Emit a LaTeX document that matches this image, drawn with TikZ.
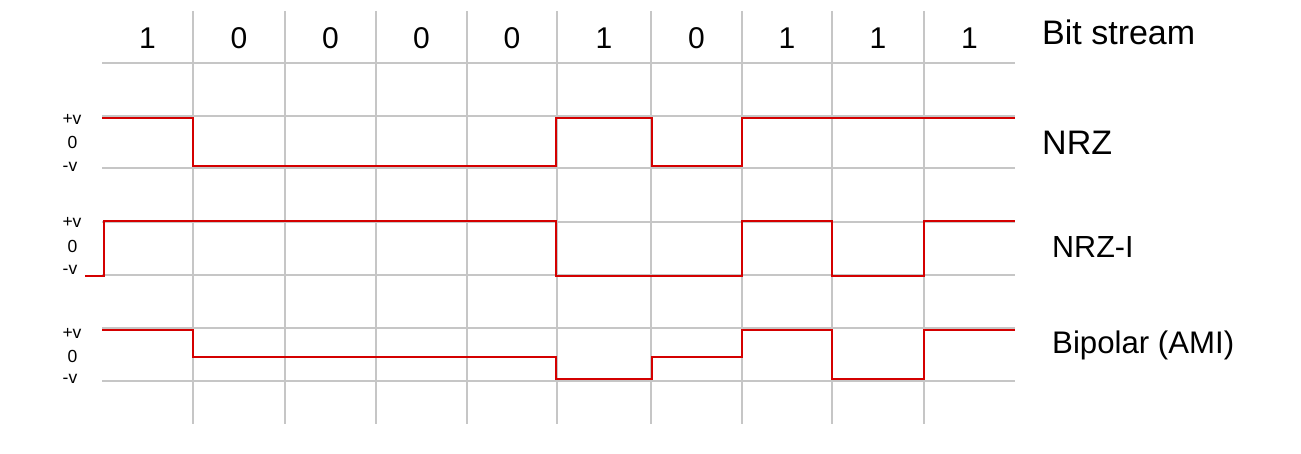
\documentclass[tikz,border=0pt]{standalone}
\usepackage{fontspec}
\setmainfont{Liberation Sans}
\definecolor{gridgray}{HTML}{C6C6C6}
\definecolor{sigred}{HTML}{D40000}
\begin{document}
\begin{tikzpicture}[x=1pt,y=-1pt,
  grid/.style={draw=gridgray,line width=2pt},
  signal/.style={draw=sigred,line width=1.6pt,line join=miter},
  bit/.style={font=\fontsize{30}{30}\selectfont,anchor=base,inner sep=0pt},
  big/.style={font=\fontsize{34}{34}\selectfont,anchor=base west,inner sep=0pt},
  mid/.style={font=\fontsize{30.5}{30.5}\selectfont,anchor=base west,inner sep=0pt},
  lvl/.style={font=\fontsize{17.5}{17.5}\selectfont,anchor=base,inner sep=0pt}]
\useasboundingbox (0,0) rectangle (1301,454);
\fill[white] (0,0) rectangle (1301,454);
% grid
\foreach \y in {63,116,168,222,275,328,381}
  \draw[grid] (102,\y) -- (1015,\y);
\foreach \x in {193,285,376,467,557,651,742,832,924}
  \draw[grid] (\x,11) -- (\x,424);
% bits
\foreach \x/\b [count=\i] in {147.5/1,239/0,330.5/0,421.5/0,512/0,604/1,696.5/0,787/1,878/1,969.5/1}
  \node[bit] (b\i) at (\x,49) {\b};
% labels
\node[big] (lbs) at (1042,45) {Bit stream};
\node[big] (lnrz) at (1042,155) {NRZ};
\node[mid] (lnrzi) at (1052,258) {NRZ-I};
\node[mid,font=\fontsize{31.2}{31.2}\selectfont] (lami) at (1052,353) {Bipolar (AMI)};
% level labels
\foreach \yp/\yz/\ym [count=\k] in {125/149/172,228/253/275,338/362/383}{
  \node[lvl] (p\k) at (72,\yp) {+v};
  \node[lvl] (z\k) at (72.5,\yz) {0};
  \node[lvl] (m\k) at (70,\ym) {-v};
}
% signals
\draw[signal] (102,118) -- (193,118) -- (193,166) -- (556,166) -- (556,118) -- (652,118) -- (652,166) -- (742,166) -- (742,118) -- (1015,118);
\draw[signal] (85,276) -- (104,276) -- (104,221) -- (556,221) -- (556,276) -- (742,276) -- (742,221) -- (832,221) -- (832,276) -- (924,276) -- (924,221) -- (1015,221);
\draw[signal] (102,330) -- (193,330) -- (193,357) -- (556,357) -- (556,379) -- (652,379) -- (652,357) -- (742,357) -- (742,330) -- (832,330) -- (832,379) -- (924,379) -- (924,330) -- (1015,330);
\end{tikzpicture}
\end{document}
